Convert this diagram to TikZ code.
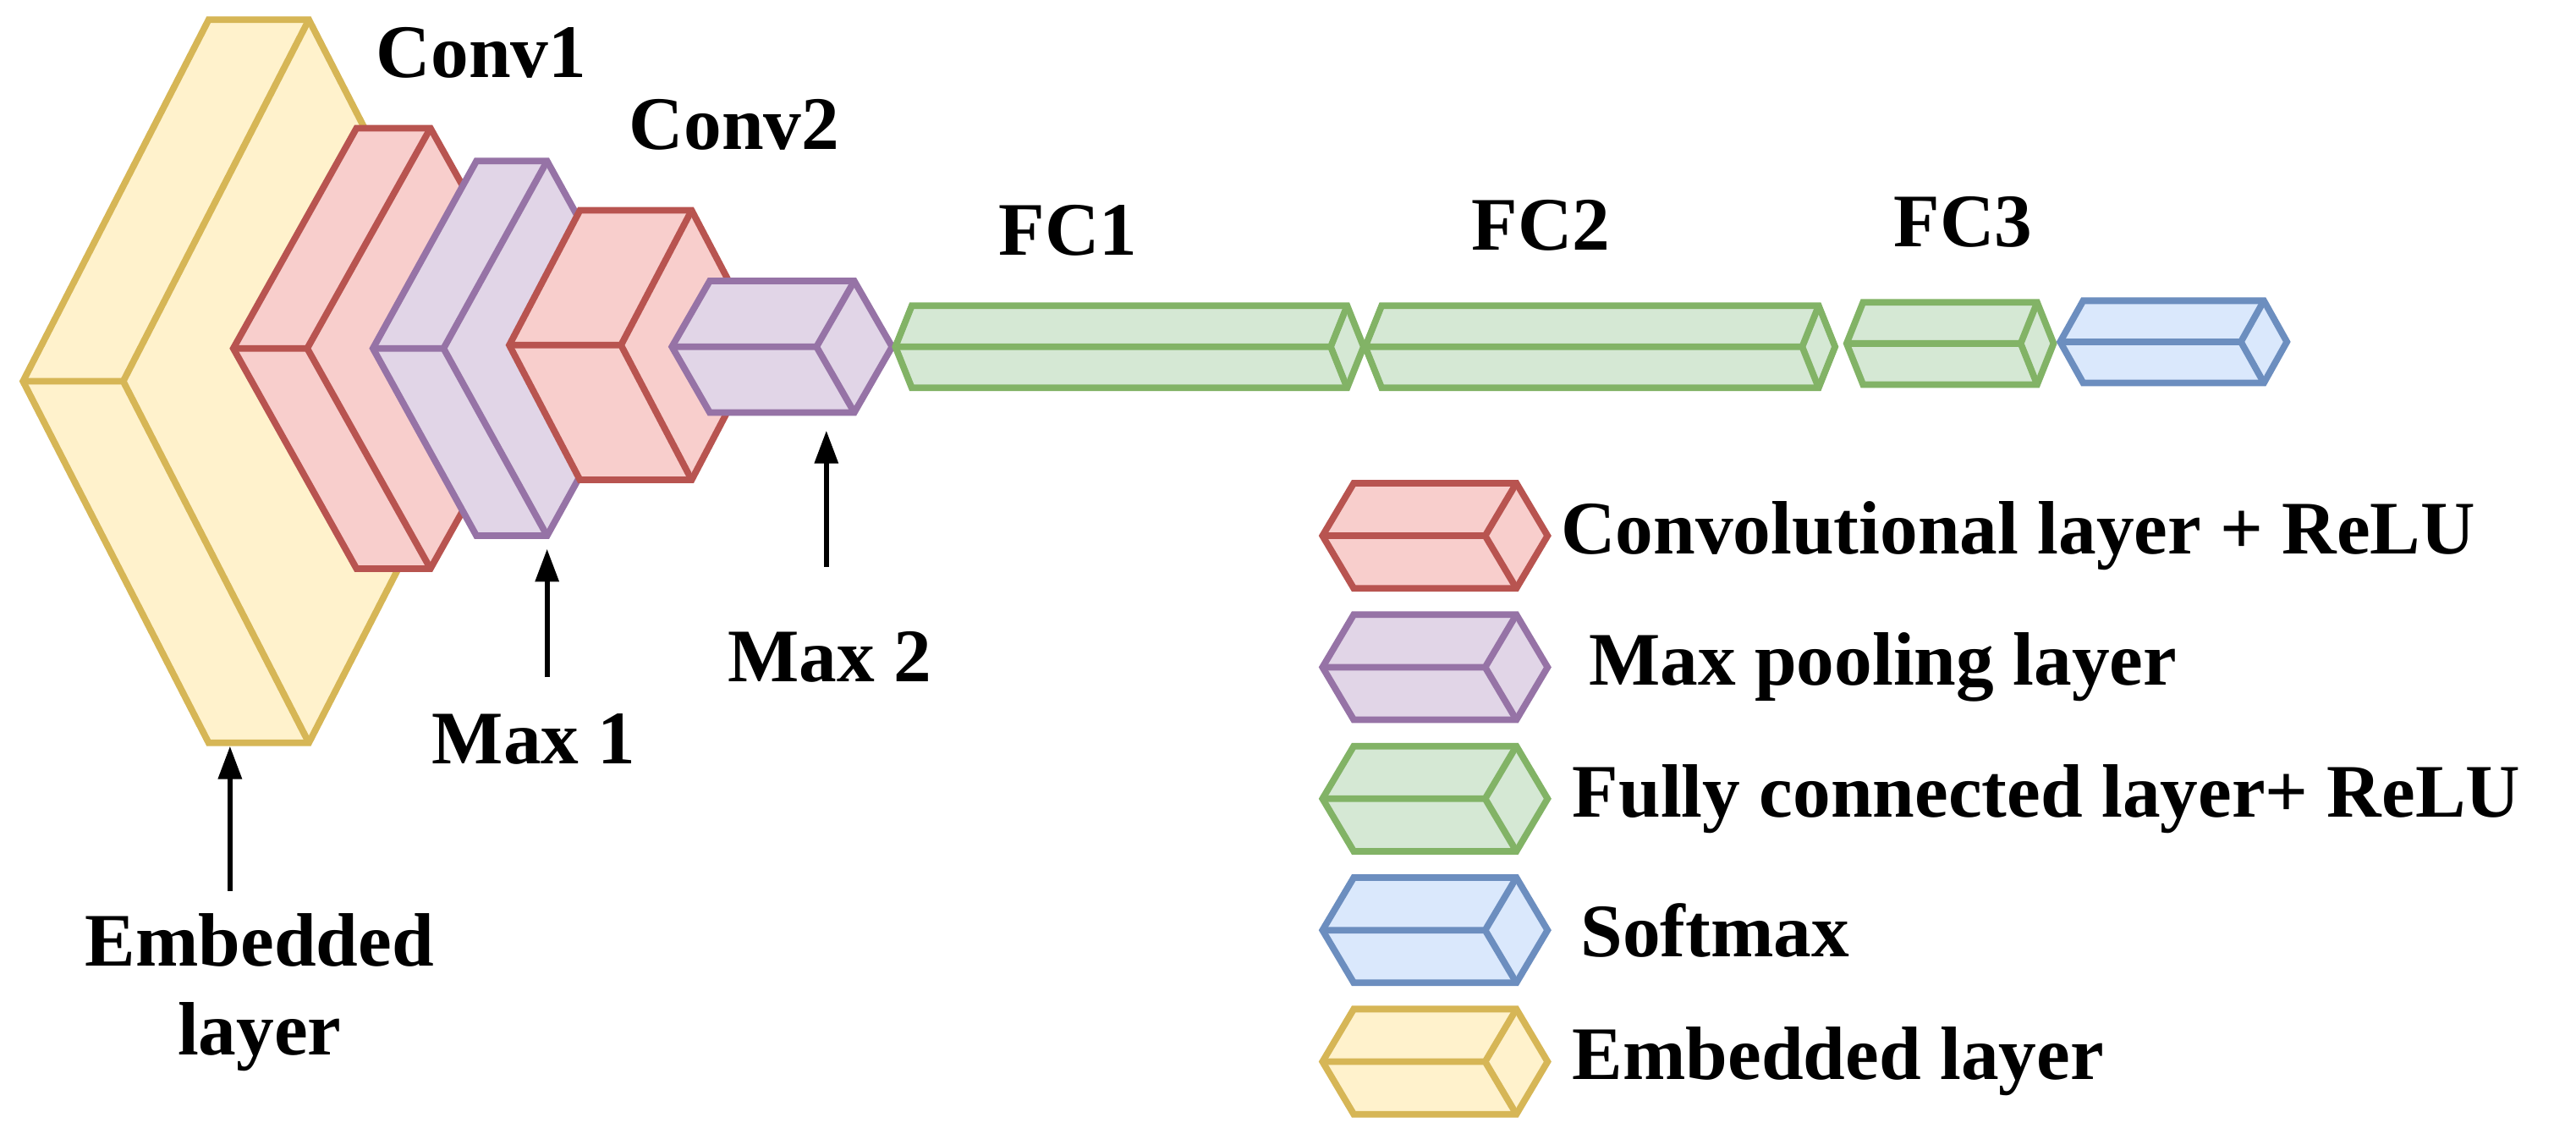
\documentclass[tikz,border=0pt]{standalone}
\usepackage{fontspec}
\setmainfont{Liberation Serif}
\usetikzlibrary{arrows.meta}
\definecolor{rf}{HTML}{F8CECC}\definecolor{rs}{HTML}{B85450}
\definecolor{pf}{HTML}{E1D5E7}\definecolor{ps}{HTML}{9673A6}
\definecolor{gf}{HTML}{D5E8D4}\definecolor{gs}{HTML}{82B366}
\definecolor{bf}{HTML}{DAE8FC}\definecolor{bs}{HTML}{6C8EBF}
\definecolor{yf}{HTML}{FFF2CC}\definecolor{ys}{HTML}{D6B656}
\tikzset{
 red/.style={fill=rf,draw=rs},pur/.style={fill=pf,draw=ps},grn/.style={fill=gf,draw=gs},
 blu/.style={fill=bf,draw=bs},yel/.style={fill=yf,draw=ys},
 lbl/.style={font=\fontsize{46}{50}\selectfont\bfseries,inner sep=0pt},
 arr/.style={line width=3pt,-{Triangle[length=20pt,width=14pt]}}
}
% \blk{style}{x0 (TL x)}{w}{dx}{y centre}{h}
\newcommand\blk[6]{%
 \filldraw[#1,line width=4pt,line join=miter] (#2-#4,#5)--(#2,#5-#6)--(#2+#3,#5-#6)--(#2+#3+#4,#5)--(#2+#3,#5+#6)--(#2,#5+#6)--cycle;
 \draw[#1,line width=4pt] (#2-#4,#5)--(#2+#3-#4,#5) (#2+#3,#5-#6)--(#2+#3-#4,#5)--(#2+#3,#5+#6);}
\begin{document}
\begin{tikzpicture}[x=1pt,y=-1pt]
\useasboundingbox (0,0) rectangle (1568,690);
\blk{yel}{127}{61}{113}{232}{220}
\blk{red}{217}{45}{75}{212}{134}
\blk{pur}{290}{43}{63}{212}{114}
\blk{red}{353}{68}{43}{210}{82}
\blk{pur}{432}{88}{23}{211}{40}
\blk{grn}{555}{265}{10}{211}{25}
\blk{grn}{841}{266}{10}{211}{25}
\blk{grn}{1134}{106}{10}{209}{25}
\blk{blu}{1268}{110}{14}{208}{25}
% legend
\blk{red}{824}{99}{19}{326}{32}
\blk{pur}{824}{99}{19}{406}{32}
\blk{grn}{824}{99}{19}{486}{32}
\blk{blu}{824}{99}{19}{566}{32}
\blk{yel}{824}{99}{19}{646}{32}
\node[lbl,anchor=west] (t1) at (950,326) {Convolutional layer + ReLU};
\node[lbl,anchor=west] (t2) at (967,406) {Max pooling layer};
\node[lbl,anchor=west] (t3) at (957,486) {Fully connected layer+ ReLU};
\node[lbl,anchor=west] (t4) at (962,566) {Softmax};
\node[lbl,anchor=west] (t5) at (957,646) {Embedded layer};
% labels
\node[lbl] (c1) at (293,32) {Conv1};
\node[lbl] (c2) at (447,76) {Conv2};
\node[lbl] (f1) at (650,140) {FC1};
\node[lbl] (f2) at (938,137) {FC2};
\node[lbl] (f3) at (1195,135) {FC3};
\node[lbl] (m1) at (325,450) {Max 1};
\node[lbl] (m2) at (505,400) {Max 2};
\node[lbl,align=center,font=\fontsize{46}{54}\selectfont\bfseries] (emb) at (158,604) {Embedded\\layer};
\coordinate (a1) at (140,542); \coordinate (b1) at (140,454);
\coordinate (a2) at (333,412); \coordinate (b2) at (333,334);
\coordinate (a3) at (503,345); \coordinate (b3) at (503,262);
\draw[arr] (a1)--(b1); \draw[arr] (a2)--(b2); \draw[arr] (a3)--(b3);
\end{tikzpicture}
\end{document}
